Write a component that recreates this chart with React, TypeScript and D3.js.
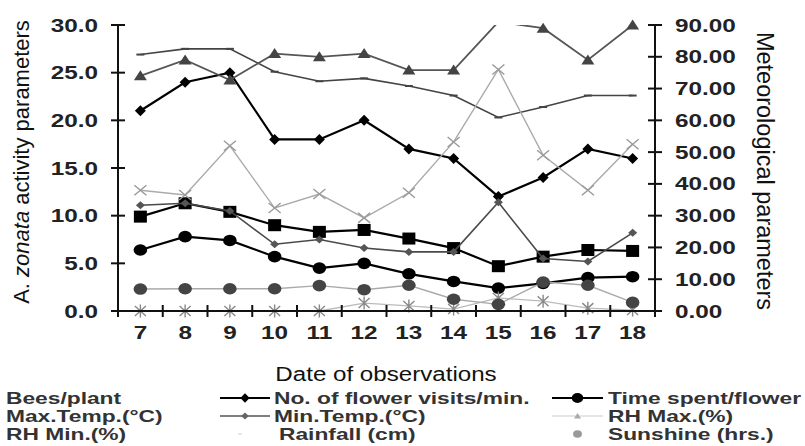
import React from "react";
import * as d3 from "d3";

// observation dates (x categories)
const dates = ["7", "8", "9", "10", "11", "12", "13", "14", "15", "16", "17", "18"];

// left axis: A. zonata activity parameters
const beesPerPlant = [9.9, 11.3, 10.4, 9.0, 8.3, 8.5, 7.6, 6.6, 4.7, 5.7, 6.4, 6.3];
const flowerVisits = [21.0, 24.0, 25.0, 18.0, 18.0, 20.0, 17.0, 16.0, 12.0, 14.0, 17.0, 16.0];
const timeSpent = [6.4, 7.8, 7.4, 5.7, 4.5, 5.0, 3.9, 3.1, 2.4, 2.9, 3.5, 3.6];
const maxTemp = [26.9, 27.5, 27.5, 25.1, 24.1, 24.4, 23.6, 22.6, 20.3, 21.4, 22.6, 22.6];
const minTemp = [11.1, 11.3, 10.5, 7.0, 7.5, 6.6, 6.2, 6.2, 11.4, 5.5, 5.2, 8.2];

// right axis: meteorological parameters
const rhMax = [74.0, 79.0, 72.7, 81.0, 80.0, 81.0, 75.8, 75.8, 91.0, 89.0, 79.0, 90.0];
const rhMin = [38.0, 36.5, 52.0, 32.4, 36.8, 29.3, 37.2, 53.2, 76.0, 49.0, 38.0, 52.5];
const rainfall = [0, 0, 0, 0, 0, 2.5, 1.6, 0.6, 4.1, 3.1, 0.9, 0.3];
const sunshine = [6.9, 7.0, 7.0, 7.0, 8.0, 6.7, 8.1, 3.7, 2.1, 9.1, 8.1, 2.7];

const leftTicks = [0, 5, 10, 15, 20, 25, 30];
const rightTicks = [0, 10, 20, 30, 40, 50, 60, 70, 80, 90];

const W = 805;
const H = 446;
const plot = { left: 118, right: 655, top: 25, bottom: 311 };

const FONT = "'Liberation Sans', Arial, sans-serif";

const x = d3.scaleBand<string>().domain(dates).range([plot.left, plot.right]);
const cx = (d: string) => (x(d) as number) + x.bandwidth() / 2;
const yL = d3.scaleLinear().domain([0, 30]).range([plot.bottom, plot.top]);
const yR = d3.scaleLinear().domain([0, 90]).range([plot.bottom, plot.top]);

type Mk = "diamond" | "square" | "circle" | "smallDiamond" | "triangle" | "x" | "asterisk" | "dash";

const Marker = ({ type, px, py, fill, s = 1 }: { type: Mk; px: number; py: number; fill: string; s?: number }) => {
  const t = `translate(${px},${py}) scale(${s})`;
  switch (type) {
    case "diamond":
      return <path transform={t} d="M0,-5.5L5.5,0L0,5.5L-5.5,0Z" fill={fill} />;
    case "smallDiamond":
      return <path transform={t} d="M0,-4L4.5,0L0,4L-4.5,0Z" fill={fill} />;
    case "square":
      return <rect transform={t} x={-6.5} y={-6} width={13} height={12} fill={fill} />;
    case "circle":
      return <ellipse transform={t} rx={6.8} ry={5.8} fill={fill} />;
    case "triangle":
      return <path transform={t} d="M0,-5.5L6.5,4.5L-6.5,4.5Z" fill={fill} />;
    case "x":
      return <path transform={t} d="M-6,-5L6,5M-6,5L6,-5" stroke={fill} strokeWidth={1.4} fill="none" />;
    case "asterisk":
      return <path transform={t} d="M-5.5,-5L5.5,5M-5.5,5L5.5,-5M0,-6.5L0,6.5" stroke={fill} strokeWidth={1.4} fill="none" />;
    case "dash":
      return <path transform={t} d="M-4,0L4,0" stroke={fill} strokeWidth={2} />;
  }
};

type Series = {
  name: string;
  values: number[];
  axis: "left" | "right";
  stroke: string;
  width: number;
  marker: Mk;
  markerFill: string;
};

// draw order: black series first, gray ones over them
const series: Series[] = [
  { name: "Bees/plant", values: beesPerPlant, axis: "left", stroke: "#000", width: 2.2, marker: "square", markerFill: "#000" },
  { name: "Time spent/flower", values: timeSpent, axis: "left", stroke: "#000", width: 2.2, marker: "circle", markerFill: "#000" },
  { name: "No. of flower visits/min.", values: flowerVisits, axis: "left", stroke: "#000", width: 2.2, marker: "diamond", markerFill: "#000" },
  { name: "Max.Temp.(°C)", values: maxTemp, axis: "left", stroke: "#444", width: 1.6, marker: "dash", markerFill: "#444" },
  { name: "Min.Temp.(°C)", values: minTemp, axis: "left", stroke: "#4a4a4a", width: 1.6, marker: "smallDiamond", markerFill: "#555" },
  { name: "RH Max.(%)", values: rhMax, axis: "right", stroke: "#555", width: 1.8, marker: "triangle", markerFill: "#444" },
  { name: "RH Min.(%)", values: rhMin, axis: "right", stroke: "#aaa", width: 1.4, marker: "x", markerFill: "#999" },
  { name: "Rainfall (cm)", values: rainfall, axis: "right", stroke: "#bbb", width: 1.3, marker: "asterisk", markerFill: "#888" },
  { name: "Sunshine (hrs.)", values: sunshine, axis: "right", stroke: "#aaa", width: 1.4, marker: "circle", markerFill: "#444" },
];

// stretched horizontal text, like the source picture
const SText = ({ tx, ty, sx = 1.35, anchor = "start", size = 18, weight = "bold", fill = "#222", children }: any) => (
  <text
    transform={`translate(${tx},${ty}) scale(${sx},1)`}
    textAnchor={anchor}
    fontFamily={FONT}
    fontSize={size}
    fontWeight={weight}
    fill={fill}
  >
    {children}
  </text>
);

const legendRows = [
  [
    { label: "Bees/plant" },
    { label: "No. of flower visits/min.", line: "#000", lw: 2.2, mk: "diamond" as Mk, mf: "#000" },
    { label: "Time spent/flower", line: "#000", lw: 2.2, mk: "circle" as Mk, mf: "#000" },
  ],
  [
    { label: "Max.Temp.(°C)" },
    { label: "Min.Temp.(°C)", line: "#555", lw: 1.6, mk: "smallDiamond" as Mk, mf: "#666" },
    { label: "RH Max.(%)", line: "#ccc", lw: 1.2, mk: "triangle" as Mk, mf: "#aaa", ms: 0.55 },
  ],
  [
    { label: "RH Min.(%)" },
    { label: "Rainfall (cm)", mk: "dash" as Mk, mf: "#bbb", ms: 0.4, dx: 5 },
    { label: "Sunshine (hrs.)", mk: "circle" as Mk, mf: "#999", ms: 0.65 },
  ],
];
const legendCols = [
  { text: 6 },
  { x1: 220, x2: 270, text: 274 },
  { x1: 552, x2: 603, text: 608 },
];

export default function App() {
  const lineL = d3.line<number>().x((_, i) => cx(dates[i])).y((v) => yL(v));
  const lineR = d3.line<number>().x((_, i) => cx(dates[i])).y((v) => yR(v));

  return (
    <svg width={W} height={H} style={{ position: "absolute", left: 0, top: 0, background: "#fff" }}>
      <defs>
        <clipPath id="plotClip">
          <rect x={plot.left - 10} y={plot.top} width={plot.right - plot.left + 20} height={plot.bottom - plot.top + 15} />
        </clipPath>
      </defs>

      {/* series */}
      {series.map((s) => {
        const gen = s.axis === "left" ? lineL : lineR;
        const yS = s.axis === "left" ? yL : yR;
        const max = yS.domain()[1];
        return (
          <g key={s.name}>
            <path d={gen(s.values) as string} fill="none" stroke={s.stroke} strokeWidth={s.width} clipPath="url(#plotClip)" />
            {s.values.map((v, i) =>
              v > max ? null : <Marker key={i} type={s.marker} px={cx(dates[i])} py={yS(v)} fill={s.markerFill} />
            )}
          </g>
        );
      })}

      {/* axes */}
      <g stroke="#111" strokeWidth={2}>
        <line x1={plot.left} x2={plot.left} y1={plot.top} y2={plot.bottom + 6} />
        <line x1={plot.right} x2={plot.right} y1={plot.top} y2={plot.bottom + 6} />
        <line x1={plot.left - 6} x2={plot.right + 6} y1={plot.bottom} y2={plot.bottom} />
        {leftTicks.map((t) => (
          <line key={"l" + t} x1={plot.left - 7} x2={plot.left + 7} y1={yL(t)} y2={yL(t)} />
        ))}
        {rightTicks.map((t) => (
          <line key={"r" + t} x1={plot.right - 7} x2={plot.right + 7} y1={yR(t)} y2={yR(t)} />
        ))}
        {dates.slice(1).map((d) => (
          <line key={"x" + d} x1={x(d)} x2={x(d)} y1={plot.bottom - 6} y2={plot.bottom + 6} />
        ))}
      </g>

      {/* tick labels */}
      {leftTicks.map((t) => (
        <SText key={"lt" + t} tx={98} ty={yL(t) + 6.5} anchor="end">
          {d3.format(".1f")(t)}
        </SText>
      ))}
      {rightTicks.map((t) => (
        <SText key={"rt" + t} tx={675} ty={yR(t) + 6.5}>
          {d3.format(".2f")(t)}
        </SText>
      ))}
      {dates.map((d) => (
        <SText key={"xt" + d} tx={cx(d)} ty={339} anchor="middle">
          {d}
        </SText>
      ))}

      {/* axis titles */}
      <SText tx={386} ty={381} anchor="middle" size={21} weight="normal" sx={1.15} fill="#111">
        Date of observations
      </SText>
      <text
        transform="translate(29,162) rotate(-90)"
        textAnchor="middle"
        fontFamily={FONT}
        fontSize={22}
        fill="#111"
      >
        A. <tspan fontStyle="italic">zonata</tspan> activity parameters
      </text>
      <text transform="translate(757,171) rotate(90)" textAnchor="middle" fontFamily={FONT} fontSize={23.5} fill="#111">
        Meteorological parameters
      </text>

      {/* legend */}
      {legendRows.map((row, r) =>
        row.map((item: any, c) => {
          const col: any = legendCols[c];
          const ly = 398 + r * 18;
          const mx = col.x1 !== undefined ? (col.x1 + col.x2) / 2 - (item.dx || 0) : 0;
          return (
            <g key={r + "-" + c}>
              {item.line && <line x1={col.x1} x2={col.x2} y1={ly} y2={ly} stroke={item.line} strokeWidth={item.lw} />}
              {item.mk && <Marker type={item.mk} px={mx} py={ly} fill={item.mf} s={item.ms ?? 0.85} />}
              <SText tx={col.text + (item.dx || 0)} ty={ly + 6} size={16.5} sx={1.38} fill="#333">
                {item.label}
              </SText>
            </g>
          );
        })
      )}
    </svg>
  );
}
